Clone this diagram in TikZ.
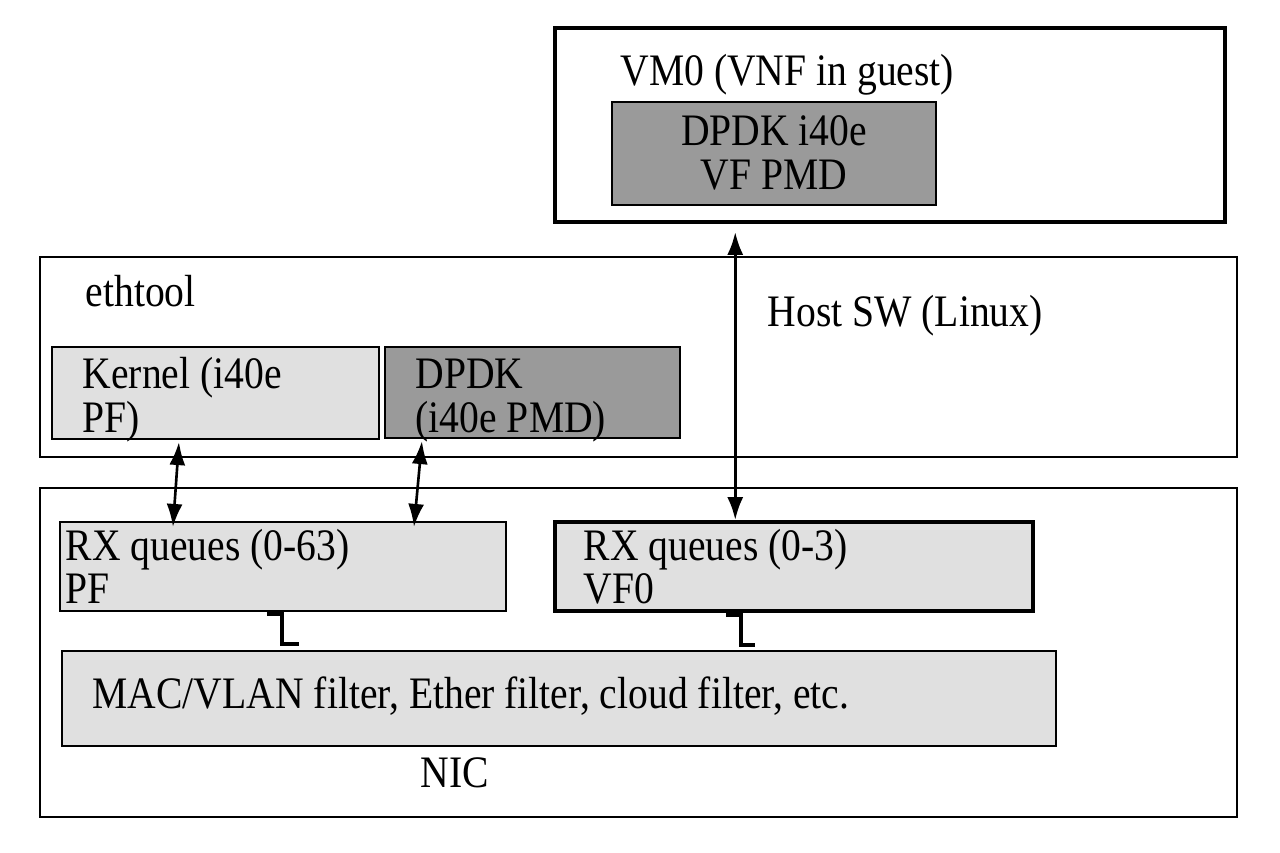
\documentclass[tikz,border=0pt]{standalone}
\usepackage{fontspec}
\setmainfont{Liberation Serif}[FakeStretch=0.88]
\usetikzlibrary{arrows.meta, fit, calc}
\definecolor{lightfill}{HTML}{E0E0E0}
\definecolor{darkfill}{HTML}{9A9A9A}
\tikzset{
  box/.style={draw, line width=0.6pt, inner sep=0pt},
  thickbox/.style={draw, line width=1pt, inner sep=0pt},
  lbl/.style={inner sep=0pt, anchor=base west, font=\fontsize{12.8}{15}\selectfont},
  link/.style={{Latex[length=2.3mm,width=1.6mm]}-{Latex[length=2.3mm,width=1.6mm]}, line width=0.75pt},
  tie/.style={line width=1.1pt}
}
\begin{document}
\begin{tikzpicture}[x=0.01cm, y=-0.01cm]
        \useasboundingbox (0,0) rectangle (1280,852);
        % Outer boxes
        \node[thickbox, fit={(555,28) (1225,222)}] (vm) {};
        \node[box, fit={(40,257) (1237,457)}] (host) {};
        \node[box, line width=0.75pt, fit={(40,488) (1237,817)}] (nic) {};
        % Inner boxes
        \node[box, fill=darkfill, fit={(612,102) (936,205)}] (vfpmd) {};
        \node[box, fill=lightfill, fit={(52,347) (379,439)}] (kernel) {};
        \node[box, fill=darkfill, fit={(385,347) (680,438)}] (dpdk) {};
        \node[box, fill=lightfill, fit={(60,522) (506,611)}] (pfq) {};
        \node[thickbox, fill=lightfill, fit={(555,522) (1033,611)}] (vfq) {};
        \node[box, fill=lightfill, fit={(62,651) (1056,746)}] (filter) {};
        % Labels
        \node[lbl] (vmlbl) at (620,86) {VM0 (VNF in guest)};
        \node[lbl, anchor=base] (vfpmd1) at (774,146) {DPDK i40e};
        \node[lbl, anchor=base] (vfpmd2) at (774,190) {VF PMD};
        \node[lbl] (ethtool) at (85,307) {ethtool};
        \node[lbl] (hostlbl) at (767,327) {Host SW (Linux)};
        \node[lbl] (kernel1) at (82,388) {Kernel (i40e};
        \node[lbl] (kernel2) at (82,432) {PF)};
        \node[lbl] (dpdk1) at (415,388) {DPDK};
        \node[lbl] (dpdk2) at (415,432) {(i40e PMD)};
        \node[lbl] (pfq1) at (65,560) {RX queues (0-63)};
        \node[lbl] (pfq2) at (65,603) {PF};
        \node[lbl] (vfq1) at (583,560) {RX queues (0-3)};
        \node[lbl] (vfq2) at (583,603) {VF0};
        \node[lbl] (filterlbl) at (92,708) {MAC/VLAN filter, Ether filter, cloud filter, etc.};
        \node[lbl] (niclbl) at (420,787) {NIC};
        % Arrows
        \draw[link] ($(kernel.south west)+(128,2)$) -- ($(pfq.north west)+(114,6)$);
        \draw[link] ($(dpdk.south west)+(38,2)$) -- ($(pfq.north west)+(355,6)$);
        \draw[link, line width=0.95pt] ($(vm.south west)+(182,8)$) -- ($(vfq.north west)+(182,0)$);
        % Queue to filter ties
        \draw[tie] ($(pfq.south west)+(208,2)$) -- ++(15,0) -- ++(0,30) -- ++(17,0);
        \draw[tie] ($(vfq.south west)+(173,2)$) -- ++(15,0) -- ++(0,30) -- ++(14,0);
\end{tikzpicture}
\end{document}
